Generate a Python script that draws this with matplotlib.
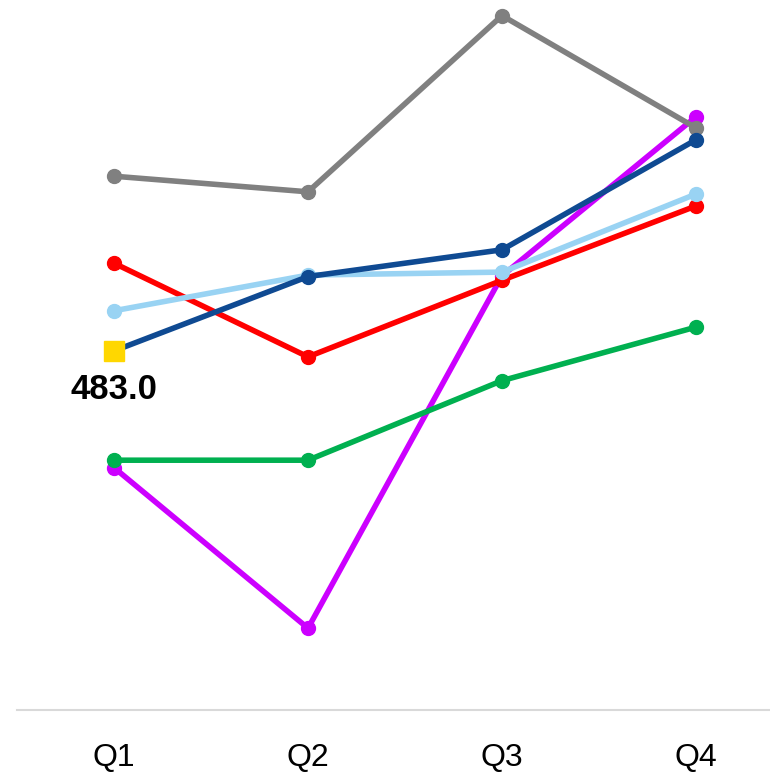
import matplotlib.pyplot as plt
import numpy as np

quarters = ["Q1", "Q2", "Q3", "Q4"]

grey_vals = [718, 697, 934, 783]
navy_vals = [483, 583, 619, 767]
sky_vals = [537, 585, 589, 694]
red_vals = [601, 475, 578, 678]
green_vals = [336, 336, 443, 515]
purple_vals = [326, 110, 584, 798]

# drawn bottom to top
series = [
    (purple_vals, "#CC00FF"),
    (green_vals, "#00B050"),
    (red_vals, "#FF0000"),
    (sky_vals, "#99D3F3"),
    (grey_vals, "#808080"),
    (navy_vals, "#0F4A92"),
]

fig = plt.figure(figsize=(7.7, 7.77), dpi=100)
ax = fig.add_axes([17 / 770, 67 / 777, 776 / 770, 710 / 777])

x = np.arange(len(quarters))
for vals, color in series:
    ax.plot(x, vals, color=color, lw=4, marker="o", ms=10,
            solid_capstyle="round", clip_on=False)

# highlighted first point of the navy series
ax.plot(x[0], navy_vals[0], marker="s", ms=14, color="#FFD700",
        ls="none", clip_on=False, zorder=5)
ax.annotate(f"{navy_vals[0]:.1f}", (x[0], navy_vals[0]),
            xytext=(0, -28), textcoords="offset points",
            ha="center", va="center", fontsize=25, fontweight="bold",
            family="Liberation Sans", color="#000000")

ax.set_xlim(-0.5, 3.5)
ax.set_ylim(0, 955)
ax.set_yticks([])
ax.set_xticks([])
for side in ["top", "left", "right", "bottom"]:
    ax.spines[side].set_visible(False)

ax.axhline(0, color="#D9D9D9", lw=1.5, clip_on=False)

for i, q in enumerate(quarters):
    fig.text((17 + 194 * i + 97) / 770, 1 - 758 / 777, q,
             ha="center", va="center", fontsize=23,
             family="Liberation Sans", color="#000000")

fig.savefig("out.png", dpi=100)
